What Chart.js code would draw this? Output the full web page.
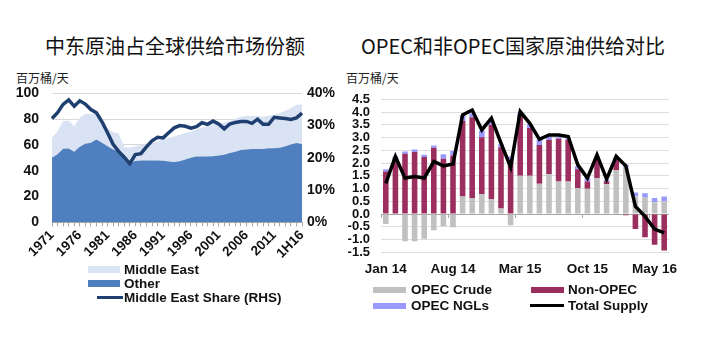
<!DOCTYPE html>
<html>
<head>
<meta charset="utf-8">
<script src="https://cdn.jsdelivr.net/npm/chart.js@4/dist/chart.umd.min.js"></script>
<style>
  body { margin: 0; background: #fff; width: 701px; height: 352px; position: relative; overflow: hidden; }
  .abs { position: absolute; }
  .title { font-family: "Noto Sans CJK SC", sans-serif; font-size: 20px; color: #111; text-align: center; top: 31px; }
  .unit { font-family: "Noto Sans CJK SC", sans-serif; font-size: 12px; color: #222; top: 69px; }
  .leg { font-family: "Liberation Sans", Arial, sans-serif; font-weight: bold; font-size: 13.5px; color: #111; white-space: nowrap; }
</style>
</head>
<body>
<div class="abs title" style="left:0;width:350px">中东原油占全球供给市场份额</div>
<div class="abs title" style="left:313px;width:400px">OPEC和非OPEC国家原油供给对比</div>
<div class="abs unit" style="left:16px">百万桶/天</div>
<div class="abs unit" style="left:346px">百万桶/天</div>

<canvas id="left_chart" class="abs" width="345" height="193" style="left:0;top:72px"></canvas>
<canvas id="right_chart" class="abs" width="361" height="200" style="left:340px;top:80px"></canvas>

<!-- left legend -->
<div class="abs" style="left:88px;top:266px;width:32px;height:7px;background:#dae3f3"></div>
<div class="abs leg" style="left:124px;top:262px">Middle East</div>
<div class="abs" style="left:88px;top:280px;width:32px;height:7px;background:#4f7fbf"></div>
<div class="abs leg" style="left:124px;top:276px">Other</div>
<div class="abs" style="left:97px;top:295.5px;width:26px;height:3px;background:#1f3f70"></div>
<div class="abs leg" style="left:124px;top:290px">Middle East Share (RHS)</div>

<!-- right legend -->
<div class="abs" style="left:373px;top:286.5px;width:33px;height:6px;background:#c0c0c0"></div>
<div class="abs leg" style="left:411px;top:282px">OPEC Crude</div>
<div class="abs" style="left:373px;top:302.5px;width:33px;height:6px;background:#9999ff"></div>
<div class="abs leg" style="left:411px;top:298px">OPEC NGLs</div>
<div class="abs" style="left:531px;top:286.5px;width:33px;height:6px;background:#9b2d5f"></div>
<div class="abs leg" style="left:568px;top:282px">Non-OPEC</div>
<div class="abs" style="left:530px;top:304px;width:34px;height:3px;background:#000"></div>
<div class="abs leg" style="left:568px;top:298px">Total Supply</div>

<script>
// LEFT CHART DATA (million barrels/day, share in %)
const years = [
  "1971","1972","1973","1974","1975","1976","1977","1978","1979","1980",
  "1981","1982","1983","1984","1985","1986","1987","1988","1989","1990",
  "1991","1992","1993","1994","1995","1996","1997","1998","1999","2000",
  "2001","2002","2003","2004","2005","2006","2007","2008","2009","2010",
  "2011","2012","2013","2014","2015","1H16"
];
const other_supply = [
  50, 52.8, 57, 57.2, 54.8, 58.6, 61, 61.8, 64.2, 61.8,
  59, 56.5, 55, 51, 46, 47.6, 48, 48, 48, 48,
  47.8, 47.2, 46.7, 47.4, 48.7, 50, 51, 51, 51, 51.2,
  51.8, 52.5, 53.7, 54.8, 56, 56.5, 56.8, 56.8, 56.8, 57.5,
  57.5, 57.8, 59, 60.4, 61.6, 60.8
];
const middle_east_supply = [
  15.5, 17.9, 21.5, 21.8, 19.8, 22.7, 23, 22.5, 19.8, 16.2,
  13.5, 13.5, 13.8, 7.5, 11.8, 11.4, 12, 12.3, 13.5, 14.8,
  16.2, 18.3, 19.8, 20.6, 20.8, 20.5, 21, 22.5, 23.5, 24.8,
  24.7, 25, 24.8, 25.5, 25.6, 25.9, 25.9, 25.7, 24.8, 25.2,
  26, 27, 27.5, 28.3, 29.6, 30.5
];
const middle_east_share = [
  32.2, 34, 36.6, 38, 36, 37.7, 36.7, 35, 34, 31.2,
  27.8, 24.2, 22, 20.2, 18.2, 21, 21.3, 23.4, 25.3, 26.4,
  26.2, 27.8, 29.3, 30, 29.8, 29.2, 29.7, 30.9, 30.4, 31.4,
  30.5, 29, 30.5, 31, 31.3, 31.3, 30.7, 32, 30.4, 30.4,
  32.6, 32.4, 32.2, 31.9, 32.4, 33.9
];

// RIGHT CHART DATA (y/y change, million barrels/day)
const months = [
  "Jan 14","Feb 14","Mar 14","Apr 14","May 14","Jun 14","Jul 14","Aug 14","Sep 14","Oct 14",
  "Nov 14","Dec 14","Jan 15","Feb 15","Mar 15","Apr 15","May 15","Jun 15","Jul 15","Aug 15",
  "Sep 15","Oct 15","Nov 15","Dec 15","Jan 16","Feb 16","Mar 16","Apr 16","May 16","Jun 16"
];
const opec_crude = [
  -0.39, 0, -1.07, -1.07, -0.97, -0.64, -0.48, -0.52, 0.69, 0.63,
  0.78, 0.59, 0.22, -0.44, 1.5, 1.5, 1.19, 1.57, 1.28, 1.28,
  1.02, 0.99, 1.4, 1.17, 1.73, 1.84, 0.69, 0.67, 0.46, 0.5
];
const non_opec = [
  1.67, 2.2, 2.36, 2.43, 2.24, 2.6, 2.17, 2.3, 2.96, 3.17,
  2.23, 2.91, 2.4, 2.13, 2.39, 1.87, 1.52, 1.34, 1.67, 1.63,
  0.74, 0.29, 0.73, 0.11, 0.4, -0.05, -0.59, -0.91, -1.2, -1.43
];
const opec_ngls = [
  0.09, 0.06, 0.09, 0.1, 0.09, 0.09, 0.18, 0.18, 0.21, 0.15,
  0.26, 0.15, 0.12, 0.13, 0.09, 0.15, 0.2, 0.13, 0.06, 0.06,
  0.11, 0.13, 0.13, 0.06, 0.1, 0.09, 0.16, 0.15, 0.17, 0.19
];
const total_supply = [
  1.2, 2.26, 1.41, 1.47, 1.41, 2.06, 1.89, 1.96, 3.89, 4.08,
  3.3, 3.76, 2.78, 1.84, 4.02, 3.56, 2.93, 3.1, 3.1, 3.04,
  1.93, 1.41, 2.32, 1.37, 2.26, 1.89, 0.3, -0.09, -0.59, -0.74
];

const label_font = { family: "'Liberation Sans', Arial, sans-serif", weight: "bold" };

// LEFT CHART
new Chart(document.getElementById("left_chart"), {
  type: "line",
  data: {
    labels: years,
    datasets: [
      {
        label: "Middle East Share (RHS)",
        data: middle_east_share,
        yAxisID: "y1",
        borderColor: "#1f3f70",
        borderWidth: 3.5,
        pointRadius: 0,
        fill: false,
        tension: 0,
      },
      {
        label: "Other",
        data: other_supply,
        yAxisID: "y",
        borderWidth: 0,
        borderColor: "#4f7fbf",
        backgroundColor: "#4f7fbf",
        pointRadius: 0,
        fill: "origin",
      },
      {
        label: "Middle East",
        data: middle_east_supply,
        yAxisID: "y",
        borderWidth: 0,
        borderColor: "#dae3f3",
        backgroundColor: "#dae3f3",
        pointRadius: 0,
        fill: "-1",
      },
    ],
  },
  options: {
    responsive: false,
    animation: false,
    layout: { padding: { top: 20.3, left: 0, right: 0, bottom: 0 } },
    plugins: { legend: { display: false }, tooltip: { enabled: false } },
    scales: {
      x: {
        grid: { drawOnChartArea: false, tickLength: 4, color: "#a6a6a6" },
        border: { color: "#a6a6a6" },
        ticks: {
          autoSkip: false,
          minRotation: 45,
          maxRotation: 45,
          padding: 1,
          color: "#111",
          font: { ...label_font, size: 13.5 },
          callback: (v, i) => (i % 5 === 0 ? years[i] : ""),
        },
        afterFit: (s) => { s.height = 42.7; },
      },
      y: {
        stacked: true,
        min: 0,
        max: 100,
        grid: { color: "#d9d9d9", drawTicks: false },
        border: { display: false },
        ticks: { stepSize: 20, padding: 13, color: "#111", font: { ...label_font, size: 14 } },
        afterFit: (s) => { s.width = 52; },
      },
      y1: {
        position: "right",
        min: 0,
        max: 40,
        grid: { drawOnChartArea: false, drawTicks: false },
        border: { display: false },
        ticks: {
          stepSize: 10,
          padding: 5,
          color: "#111",
          font: { ...label_font, size: 14 },
          callback: (v) => v + "%",
        },
        afterFit: (s) => { s.width = 43; },
      },
    },
  },
});

// RIGHT CHART
new Chart(document.getElementById("right_chart"), {
  type: "bar",
  data: {
    labels: months,
    datasets: [
      {
        type: "line",
        label: "Total Supply",
        data: total_supply,
        order: 0,
        borderColor: "#000",
        borderWidth: 3.5,
        pointRadius: 0,
        tension: 0,
        fill: false,
      },
      { label: "OPEC Crude", data: opec_crude, order: 1, backgroundColor: "#c0c0c0", barPercentage: 0.58, categoryPercentage: 1 },
      { label: "Non-OPEC", data: non_opec, order: 1, backgroundColor: "#9b2d5f", barPercentage: 0.58, categoryPercentage: 1 },
      { label: "OPEC NGLs", data: opec_ngls, order: 1, backgroundColor: "#9999ff", barPercentage: 0.58, categoryPercentage: 1 },
    ],
  },
  options: {
    responsive: false,
    animation: false,
    layout: { padding: { top: 19.3, left: 0, right: 32, bottom: 0 } },
    plugins: { legend: { display: false }, tooltip: { enabled: false } },
    scales: {
      x: {
        stacked: true,
        grid: { display: false, drawTicks: false },
        border: { display: false },
        ticks: {
          autoSkip: false,
          maxRotation: 0,
          padding: 9,
          color: "#111",
          font: { ...label_font, size: 13.5 },
          callback: (v, i) => (i % 7 === 0 ? months[i] : ""),
        },
        afterFit: (s) => { s.height = 27.7; },
      },
      xz: {
        type: "category",
        position: { y: 0 },
        offset: true,
        grid: {
          offset: true,
          drawOnChartArea: false,
          tickLength: 4,
          color: (ctx) => (ctx.index % 7 === 0 ? "#a6a6a6" : "rgba(0,0,0,0)"),
        },
        border: { display: false },
        ticks: { display: false, autoSkip: false },
      },
      y: {
        stacked: true,
        min: -1.5,
        max: 4.5,
        grid: {
          drawTicks: false,
          color: (ctx) => (ctx.tick && ctx.tick.value === 0 ? "#a6a6a6" : "#dedede"),
        },
        border: { display: false },
        ticks: {
          stepSize: 0.5,
          autoSkip: false,
          padding: 11,
          color: "#111",
          font: { ...label_font, size: 13 },
          callback: (v) => v.toFixed(1),
        },
        afterFit: (s) => { s.width = 41; },
      },
    },
  },
});
</script>
</body>
</html>
